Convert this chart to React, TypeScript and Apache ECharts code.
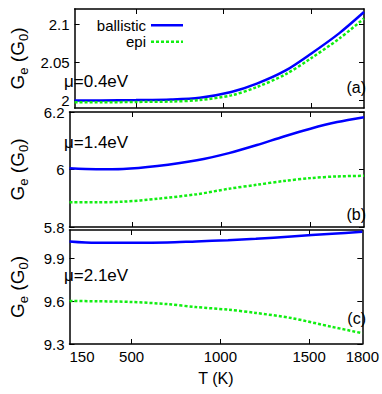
import React, { useEffect, useRef } from 'react';
import * as echarts from 'echarts';

// Panel (a): mu = 0.4 eV
const T_A = [150, 300, 500, 700, 864, 1043, 1189, 1351, 1496, 1658, 1800];
const ballisticA = [2.0, 2.0, 2.0004, 2.0012, 2.0035, 2.011, 2.022, 2.039, 2.061, 2.088, 2.116];
const epiA = [1.9975, 1.9975, 1.998, 1.9985, 2.0005, 2.0066, 2.0175, 2.034, 2.055, 2.081, 2.1075];

// Panel (b): mu = 1.4 eV
const T_B = [150, 300, 450, 642, 864, 1043, 1200, 1351, 1500, 1650, 1800];
const ballisticB = [6.004, 6.001, 6.002, 6.012, 6.032, 6.057, 6.085, 6.115, 6.142, 6.165, 6.182];
const epiB = [5.886, 5.886, 5.888, 5.898, 5.914, 5.933, 5.947, 5.96, 5.97, 5.976, 5.978];

// Panel (c): mu = 2.1 eV
const T_C = [150, 300, 500, 700, 864, 1043, 1200, 1400, 1630, 1800];
const ballisticC = [10.02, 10.01, 10.01, 10.012, 10.02, 10.028, 10.038, 10.055, 10.074, 10.087];
const epiC = [9.602, 9.6, 9.595, 9.58, 9.559, 9.541, 9.518, 9.482, 9.42, 9.376];

const xTickValues = [500, 1000, 1500];
const xLabelValues = [150, 500, 1000, 1500, 1800];
const yTicksA = [2.0, 2.05, 2.1];
const yTicksB = [5.8, 6.0, 6.2];
const yTicksC = [9.3, 9.6, 9.9];
const panelLabels = ['μ=0.4eV', 'μ=1.4eV', 'μ=2.1eV'];
const panelTags = ['(a)', '(b)', '(c)'];

const FONT = 'Liberation Sans';
const BLUE = '#0000ff';
const GREEN = '#11ee11';

const SOLID_ICON = 'path://M0,0h32v2.5h-32z';
const DASH_ICON =
  'path://M0,0h3v2.5h-3zM5,0h3v2.5h-3zM10,0h3v2.5h-3zM15,0h3v2.5h-3zM20,0h3v2.5h-3zM25,0h3v2.5h-3zM30,0h2v2.5h-2z';

export default function App() {
  const ref = useRef<HTMLDivElement>(null);
  useEffect(() => {
    if (!ref.current) return;
    const chart = echarts.init(ref.current, undefined, { renderer: 'svg' });
    const grids = [
      { left: 59, top: 9, width: 305, height: 99 },
      { left: 59, top: 112, width: 305, height: 115 },
      { left: 59, top: 230, width: 305, height: 114 },
    ];
    const ranges = [
      [1.99, 2.12],
      [5.8, 6.2],
      [9.3, 10.1],
    ];
    const yTicks = [yTicksA, yTicksB, yTicksC];
    const lineStyle = { color: '#000', width: 1.5 };
    const fmt = (v: number) => String(+(+v).toFixed(2));

    const xAxis: any[] = [];
    const yAxis: any[] = [];
    grids.forEach((_, i) => {
      const last = i === 2;
      xAxis.push({
        type: 'value', gridIndex: i, min: 150, max: 1800, position: 'bottom',
        axisLine: { show: true, onZero: false, lineStyle },
        axisTick: { show: true, inside: true, length: 5, customValues: xTickValues, lineStyle: { color: '#000', width: 1 } },
        axisLabel: {
          show: last, customValues: xLabelValues, margin: 5, color: '#000',
          fontFamily: FONT, fontSize: 15, formatter: fmt, alignMinLabel: 'left',
        },
        splitLine: { show: false },
        name: last ? 'T (K)' : '', nameLocation: 'middle', nameGap: 26,
        nameTextStyle: { fontFamily: FONT, fontSize: 16, color: '#000', verticalAlign: 'top' },
      });
      xAxis.push({
        type: 'value', gridIndex: i, min: 150, max: 1800, position: 'top',
        axisLine: { show: true, onZero: false, lineStyle },
        axisTick: { show: true, inside: true, length: 5, customValues: xTickValues, lineStyle: { color: '#000', width: 1 } },
        axisLabel: { show: false },
        splitLine: { show: false },
      });
      yAxis.push({
        type: 'value', gridIndex: i, min: ranges[i][0], max: ranges[i][1], position: 'left',
        axisLine: { show: true, onZero: false, lineStyle },
        axisTick: { show: true, inside: true, length: 5, customValues: yTicks[i], lineStyle: { color: '#000', width: 1 } },
        axisLabel: {
          show: true, customValues: yTicks[i], margin: 5, color: '#000',
          fontFamily: FONT, fontSize: 15, formatter: fmt,
        },
        splitLine: { show: false },
        name: '{m|G}{s|e}{m| (G}{s|0}{m|)}',
        nameLocation: 'middle', nameGap: 40, nameRotate: 90,
        nameTextStyle: {
          color: '#000', fontFamily: FONT, fontSize: 19,
          rich: {
            m: { fontFamily: FONT, fontSize: 19, lineHeight: 24, verticalAlign: 'middle', color: '#000' },
            s: { fontFamily: FONT, fontSize: 13, lineHeight: 12, verticalAlign: 'bottom', color: '#000' },
          },
        },
      });
      yAxis.push({
        type: 'value', gridIndex: i, min: ranges[i][0], max: ranges[i][1], position: 'right',
        axisLine: { show: true, onZero: false, lineStyle },
        axisTick: { show: true, inside: true, length: 5, customValues: yTicks[i], lineStyle: { color: '#000', width: 1 } },
        axisLabel: { show: false },
        splitLine: { show: false },
      });
    });

    const pairs = (xs: number[], ys: number[]) => xs.map((x, k) => [x, ys[k]]);
    const data = [
      [pairs(T_A, ballisticA), pairs(T_A, epiA)],
      [pairs(T_B, ballisticB), pairs(T_B, epiB)],
      [pairs(T_C, ballisticC), pairs(T_C, epiC)],
    ];
    const series: any[] = [];
    data.forEach((d, i) => {
      series.push({
        name: 'ballistic', type: 'line', xAxisIndex: 2 * i, yAxisIndex: 2 * i,
        data: d[0], symbol: 'none', smooth: 0.3,
        lineStyle: { color: BLUE, width: 2.5 }, itemStyle: { color: BLUE },
      });
      series.push({
        name: 'epi', type: 'line', xAxisIndex: 2 * i, yAxisIndex: 2 * i,
        data: d[1], symbol: 'none', smooth: 0.3,
        lineStyle: { color: GREEN, width: 2.5, type: [3, 2] }, itemStyle: { color: GREEN },
      });
    });

    const graphic: any[] = [];
    const labelY = [82, 143, 276];
    const tagY = [88, 215, 319];
    for (let i = 0; i < 3; i++) {
      graphic.push({
        type: 'text', left: 64, top: labelY[i] - 9,
        style: { text: panelLabels[i], fontFamily: FONT, fontSize: 17, fill: '#000' },
      });
      graphic.push({
        type: 'text', right: 16, top: tagY[i] - 9,
        style: { text: panelTags[i], fontFamily: FONT, fontSize: 16, fill: '#000' },
      });
    }

    chart.setOption({
      animation: false,
      backgroundColor: '#fff',
      grid: grids,
      xAxis,
      yAxis,
      series,
      graphic,
      legend: {
        data: [
          { name: 'ballistic', icon: SOLID_ICON, itemStyle: { color: BLUE } },
          { name: 'epi', icon: DASH_ICON, itemStyle: { color: GREEN } },
        ],
        orient: 'vertical', align: 'right', right: 199, top: 17, padding: 0,
        itemWidth: 32, itemHeight: 2.5, itemGap: 0, symbolKeepAspect: false,
        itemStyle: { borderWidth: 0 },
        lineStyle: { width: 0, opacity: 0 },
        textStyle: { fontFamily: FONT, fontSize: 15, color: '#000', lineHeight: 16.5 },
      },
    });
    return () => chart.dispose();
  }, []);
  return (
    <div
      ref={ref}
      style={{ position: 'fixed', left: 0, top: 0, width: 382, height: 394 }}
    />
  );
}
